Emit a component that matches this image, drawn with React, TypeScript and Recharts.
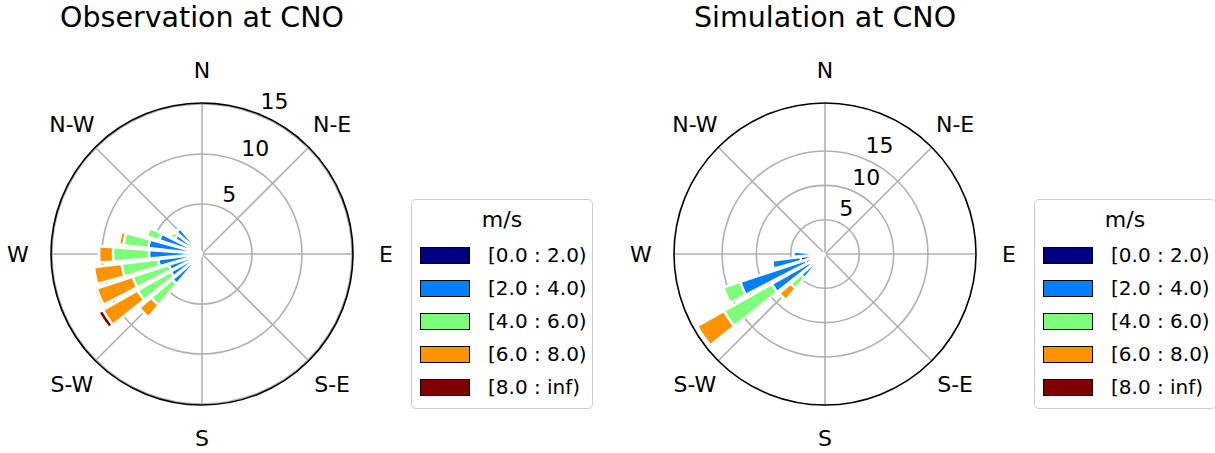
import React from "react";
import {
  RadialBarChart,
  RadialBar,
  PolarGrid,
  PolarAngleAxis,
  PolarRadiusAxis,
} from "recharts";

// 32 sectors, clockwise from north
const DIRECTIONS = [
  "N", "NbE", "NNE", "NEbN", "NE", "NEbE", "ENE", "EbN",
  "E", "EbS", "ESE", "SEbE", "SE", "SEbS", "SSE", "SbE",
  "S", "SbW", "SSW", "SWbS", "SW", "SWbW", "WSW", "WbS",
  "W", "WbN", "WNW", "NWbW", "NW", "NWbN", "NNW", "NbW",
];

const COMPASS_LABELS: Record<string, string> = {
  N: "N",
  NE: "N-E",
  E: "E",
  SE: "S-E",
  S: "S",
  SW: "S-W",
  W: "W",
  NW: "N-W",
};

const BINS = ["[0.0 : 2.0)", "[2.0 : 4.0)", "[4.0 : 6.0)", "[6.0 : 8.0)", "[8.0 : inf)"];
const BIN_KEYS = ["b0", "b1", "b2", "b3", "b4"];
const COLORS = ["#000080", "#0080ff", "#7dff7a", "#ff9400", "#800000"];

const RADIUS_TICKS = [5, 10, 15];

// observation - frequency per speed bin
const OBS_B0 = [0, 0, 0, 0, 0, 0, 0, 0, 0, 0, 0, 0, 0, 0, 0, 0, 0, 0, 0.1, 0.3, 0.4, 0.5, 0.5, 0.5, 0.5, 0.5, 0.4, 0.3, 0.3, 0.2, 0.1, 0];
const OBS_B1 = [0, 0, 0, 0, 0, 0, 0, 0, 0, 0, 0, 0, 0, 0, 0, 0, 0, 0, 0, 0.8, 3.5, 3.1, 3.0, 3.9, 4.8, 4.9, 4.1, 2.8, 3.1, 0.6, 0, 0];
const OBS_B2 = [0, 0, 0, 0, 0, 0, 0, 0, 0, 0, 0, 0, 0, 0, 0, 0, 0, 0, 0, 0, 2.8, 3.8, 3.8, 3.7, 3.6, 2.5, 1.3, 0.5, 0, 0, 0, 0];
const OBS_B3 = [0, 0, 0, 0, 0, 0, 0, 0, 0, 0, 0, 0, 0, 0, 0, 0, 0, 0, 0, 0, 1.6, 4.0, 3.8, 2.8, 1.4, 0.45, 0, 0, 0, 0, 0, 0];
const OBS_B4 = [0, 0, 0, 0, 0, 0, 0, 0, 0, 0, 0, 0, 0, 0, 0, 0, 0, 0, 0, 0, 0, 0.5, 0.25, 0.2, 0, 0, 0, 0, 0, 0, 0, 0];

// simulation
const SIM_B0 = [0, 0, 0, 0, 0, 0, 0, 0, 0, 0, 0, 0, 0, 0, 0, 0, 0, 0, 0, 0.3, 1.0, 2.5, 3.0, 3.6, 1.5, 1.0, 0.3, 0, 0, 0, 0, 0];
const SIM_B1 = [0, 0, 0, 0, 0, 0, 0, 0, 0, 0, 0, 0, 0, 0, 0, 0, 0, 0, 0, 0, 3.6, 6.4, 10.0, 4.2, 3.1, 1.5, 0, 0, 0, 0, 0, 0];
const SIM_B2 = [0, 0, 0, 0, 0, 0, 0, 0, 0, 0, 0, 0, 0, 0, 0, 0, 0, 0, 0, 0, 2.0, 8.0, 2.6, 0, 0, 0, 0, 0, 0, 0, 0, 0];
const SIM_B3 = [0, 0, 0, 0, 0, 0, 0, 0, 0, 0, 0, 0, 0, 0, 0, 0, 0, 0, 0, 0, 2.2, 4.5, 0, 0, 0, 0, 0, 0, 0, 0, 0, 0];
const SIM_B4 = [0, 0, 0, 0, 0, 0, 0, 0, 0, 0, 0, 0, 0, 0, 0, 0, 0, 0, 0, 0, 0, 0, 0, 0, 0, 0, 0, 0, 0, 0, 0, 0];

const buildData = (bins: number[][]) =>
  DIRECTIONS.map((dir, i) => {
    const row: Record<string, any> = { dir };
    BIN_KEYS.forEach((k, j) => {
      row[k] = bins[j][i];
    });
    return row;
  });

const obsData = buildData([OBS_B0, OBS_B1, OBS_B2, OBS_B3, OBS_B4]);
const simData = buildData([SIM_B0, SIM_B1, SIM_B2, SIM_B3, SIM_B4]);

const FONT = "'DejaVu Sans', sans-serif";
const STEP = 360 / DIRECTIONS.length;
const HALF = STEP / 2;
const CX = 202;
const CY = 254;
const OUTER = 151;
const LABEL_GAP = 33;

// bars are drawn from the tick angle counter-clockwise, so the label
// goes half a sector further to sit on the middle of the bar
const DirTick = (props: any) => {
  const label = COMPASS_LABELS[props.payload.value];
  if (!label) return null;
  const cx = props.cx ?? CX;
  const cy = props.cy ?? CY;
  const r = (props.radius ?? OUTER) + LABEL_GAP;
  const a = ((props.payload.coordinate + HALF) * Math.PI) / 180;
  return (
    <text
      x={cx + r * Math.cos(a)}
      y={cy - r * Math.sin(a)}
      dy="0.36em"
      textAnchor="middle"
      fontSize={22}
      fontFamily={FONT}
      fill="#000"
    >
      {label}
    </text>
  );
};

const RadiusTick = (props: any) => (
  <text
    x={props.x + 1}
    y={props.y - 14}
    dy="0.36em"
    textAnchor="start"
    fontSize={22}
    fontFamily={FONT}
    fill="#000"
  >
    {props.payload.value}
  </text>
);

function LegendBox() {
  return (
    <div
      style={{
        position: "absolute",
        left: 411,
        top: 199,
        width: 182,
        height: 210,
        boxSizing: "border-box",
        border: "1px solid #cccccc",
        borderRadius: 5,
        background: "#fff",
        fontFamily: FONT,
        color: "#000",
      }}
    >
      <div
        style={{
          position: "absolute",
          top: 9,
          left: 0,
          width: "100%",
          textAlign: "center",
          fontSize: 22,
          lineHeight: "22px",
        }}
      >
        m/s
      </div>
      {BINS.map((b, i) => (
        <React.Fragment key={b}>
          <div
            style={{
              position: "absolute",
              left: 8,
              top: 47 + 33 * i,
              width: 50,
              height: 17,
              boxSizing: "border-box",
              border: "1.5px solid #000",
              background: COLORS[i],
            }}
          />
          <div
            style={{
              position: "absolute",
              left: 76,
              top: 44 + 33 * i,
              fontSize: 20,
              lineHeight: "23px",
              whiteSpace: "nowrap",
            }}
          >
            {b}
          </div>
        </React.Fragment>
      ))}
    </div>
  );
}

type RoseProps = {
  title: string;
  data: Record<string, any>[];
  rMax: number;
  left: number;
};

function WindRose({ title, data, rMax, left }: RoseProps) {
  return (
    <div style={{ position: "absolute", left, top: 0, width: 600, height: 453 }}>
      <RadialBarChart
        width={600}
        height={453}
        data={data}
        cx={CX}
        cy={CY}
        innerRadius={0}
        outerRadius={OUTER}
        startAngle={90 - HALF}
        endAngle={90 - HALF - 360}
        layout="centric"
        barCategoryGap="12%"
        margin={{ top: 0, right: 0, bottom: 0, left: 0 }}
      >
        <PolarAngleAxis
          type="category"
          dataKey="dir"
          tick={<DirTick />}
          tickLine={false}
          tickSize={LABEL_GAP}
          axisLineType="circle"
          axisLine={{ stroke: "#000", strokeWidth: 1.6 }}
        />
        <PolarRadiusAxis
          type="number"
          angle={67.5}
          domain={[0, rMax]}
          ticks={RADIUS_TICKS}
          axisLine={false}
          tick={<RadiusTick />}
        />
        {BIN_KEYS.map((k, i) => (
          <RadialBar
            key={k}
            dataKey={k}
            stackId="speed"
            fill={COLORS[i]}
            stroke="#fff"
            strokeWidth={2.4}
            isAnimationActive={false}
          />
        ))}
        <PolarGrid
          gridType="circle"
          polarAngles={[90, 45, 0, -45, -90, -135, 180, 135]}
          stroke="#b0b0b0"
          strokeWidth={1.6}
        />
      </RadialBarChart>
      <div
        style={{
          position: "absolute",
          top: 4,
          left: 0,
          width: 404,
          textAlign: "center",
          fontFamily: FONT,
          fontSize: 28.5,
          lineHeight: "28.5px",
          color: "#000",
        }}
      >
        {title}
      </div>
      <LegendBox />
    </div>
  );
}

export default function App() {
  return (
    <div
      style={{
        position: "absolute",
        left: 0,
        top: 0,
        width: 1215,
        height: 453,
        background: "#fff",
        overflow: "hidden",
      }}
    >
      <WindRose title="Observation at CNO" data={obsData} rMax={15.1} left={0} />
      <WindRose title="Simulation at CNO" data={simData} rMax={21.8} left={623} />
    </div>
  );
}
